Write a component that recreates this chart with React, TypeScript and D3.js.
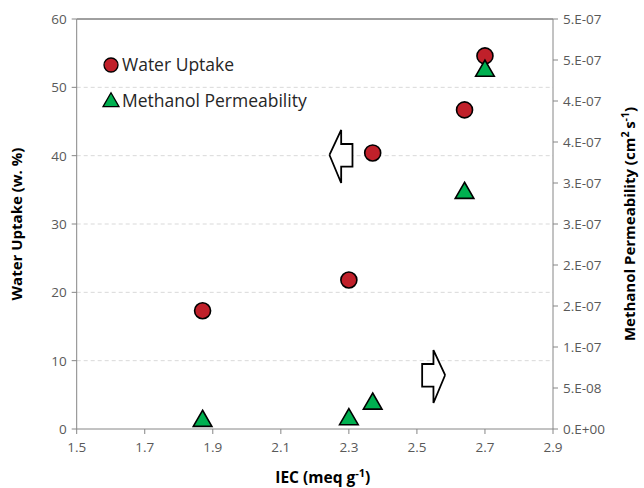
import React from "react";
import * as d3 from "d3";

// IEC (meq/g) for each membrane
const iec = [1.87, 2.3, 2.37, 2.64, 2.7];
const waterUptake = [17.3, 21.8, 40.4, 46.7, 54.6];
const iecPerm = [1.87, 2.3, 2.37, 2.64, 2.7];
const methanolPerm = [1.1e-8, 1.3e-8, 3.2e-8, 2.89e-7, 4.38e-7];

const xTicks = [1.5, 1.7, 1.9, 2.1, 2.3, 2.5, 2.7, 2.9];
const yLeftTicks = [0, 10, 20, 30, 40, 50, 60];
const yRightTicks = [0, 5e-8, 1e-7, 1.5e-7, 2e-7, 2.5e-7, 3e-7, 3.5e-7, 4e-7, 4.5e-7, 5e-7];
const yRightLabels = ["0.E+00", "5.E-08", "1.E-07", "2.E-07", "2.E-07", "3.E-07", "3.E-07", "4.E-07", "4.E-07", "5.E-07", "5.E-07"];

const W = 644;
const H = 488;
const margin = { left: 76.7, right: 91, top: 19, bottom: 59 };
const font = "'Open Sans', 'Liberation Sans', sans-serif";

const x = d3.scaleLinear().domain([1.5, 2.9]).range([margin.left, W - margin.right]);
const yL = d3.scaleLinear().domain([0, 60]).range([H - margin.bottom, margin.top]);
const yR = d3.scaleLinear().domain([0, 5e-7]).range([H - margin.bottom, margin.top]);

const tri = d3.symbol().type(d3.symbolTriangle).size(150);

// block arrow, tip at (0,0), pointing left (dir=-1) or right (dir=1)
const arrowPath = (dir: number) => {
  const pts: [number, number][] = [
    [0, 0], [11.7, -25], [11.7, -11], [23, -11], [23, 11.7], [11.7, 11.7], [11.7, 28], [0, 0],
  ];
  return d3.line()(pts.map(([a, b]) => [-dir * a, b] as [number, number]))!;
};

const App = () => {
  const x0 = x.range()[0], x1 = x.range()[1];
  const y0 = yL.range()[0], y1 = yL.range()[1];
  const axisCol = "#868686";
  const tickCol = "#595959";
  return (
    <svg width={W} height={H} style={{ position: "absolute", left: 0, top: 0, background: "#fff" }} fontFamily={font}>
      {/* gridlines */}
      {yLeftTicks.filter((t) => t > 0 && t < 60).map((t) => (
        <line key={t} x1={x0} x2={x1} y1={yL(t)} y2={yL(t)} stroke="#d9d9d9" strokeDasharray="4,3" />
      ))}
      {/* axes */}
      <line x1={x0} x2={x1} y1={y1} y2={y1} stroke="#404040" strokeWidth={1} />
      <line x1={x0} x2={x0} y1={y1} y2={y0} stroke={axisCol} />
      <line x1={x1} x2={x1} y1={y1} y2={y0} stroke={axisCol} />
      <line x1={x0} x2={x1} y1={y0} y2={y0} stroke={axisCol} />
      {xTicks.map((t) => (
        <g key={t}>
          <line x1={x(t)} x2={x(t)} y1={y0} y2={y0 + 5} stroke={axisCol} />
          <text x={x(t)} y={y0 + 23} textAnchor="middle" fontSize={13.5} fill={tickCol}>{d3.format(".1f")(t)}</text>
        </g>
      ))}
      {yLeftTicks.map((t) => (
        <g key={t}>
          <line x1={x0 - 5} x2={x0} y1={yL(t)} y2={yL(t)} stroke={axisCol} />
          <text x={x0 - 10} y={yL(t) + 5} textAnchor="end" fontSize={13.5} fill={tickCol}>{t}</text>
        </g>
      ))}
      {yRightTicks.map((t, i) => (
        <g key={i}>
          <line x1={x1} x2={x1 + 5} y1={yR(t)} y2={yR(t)} stroke={axisCol} />
          <text x={x1 + 10} y={yR(t) + 5} fontSize={13.5} fill={tickCol}>{yRightLabels[i]}</text>
        </g>
      ))}
      {/* titles */}
      <text x={(x0 + x1) / 2 + 8} y={H - 5} textAnchor="middle" fontSize={15.5} fontWeight="bold" fill="#000">
        IEC (meq g<tspan dy={-6} fontSize={11}>-1</tspan><tspan dy={6}>)</tspan>
      </text>
      <text transform={`translate(22,${(y0 + y1) / 2}) rotate(-90)`} textAnchor="middle" fontSize={15} fontWeight="bold" fill="#000">
        Water Uptake (w. %)
      </text>
      <text transform={`translate(635,${(y0 + y1) / 2}) rotate(-90)`} textAnchor="middle" fontSize={15} fontWeight="bold" fill="#000">
        Methanol Permeability (cm<tspan dy={-6} fontSize={10.5}>2 </tspan><tspan dy={6}>s</tspan><tspan dy={-6} fontSize={10.5}>-1</tspan><tspan dy={6}>)</tspan>
      </text>
      {/* arrows */}
      <path d={arrowPath(-1)} transform={`translate(${x(2.243)},${yL(40.1)})`} fill="#fff" stroke="#000" strokeWidth={1.8} />
      <path d={arrowPath(1)} transform={`translate(${x(2.583)},${yL(7.9)})`} fill="#fff" stroke="#000" strokeWidth={1.8} />
      {/* series */}
      {iec.map((v, i) => (
        <circle key={i} cx={x(v)} cy={yL(waterUptake[i])} r={8} fill="#C0202A" stroke="#000" strokeWidth={1.6} />
      ))}
      {iecPerm.map((v, i) => (
        <path key={i} d={tri()!} transform={`translate(${x(v)},${yR(methanolPerm[i]) + 1})`} fill="#00B050" stroke="#000" strokeWidth={1.6} />
      ))}
      {/* legend */}
      <circle cx={111} cy={65} r={7} fill="#C0202A" stroke="#000" strokeWidth={1.3} />
      <text x={122} y={71} fontSize={17.5} fill="#262626">Water Uptake</text>
      <path d={d3.symbol().type(d3.symbolTriangle).size(110)()!} transform="translate(111,102)" fill="#00B050" stroke="#000" strokeWidth={1.3} />
      <text x={122} y={107} fontSize={17.5} fill="#262626">Methanol Permeability</text>
    </svg>
  );
};

export default App;
